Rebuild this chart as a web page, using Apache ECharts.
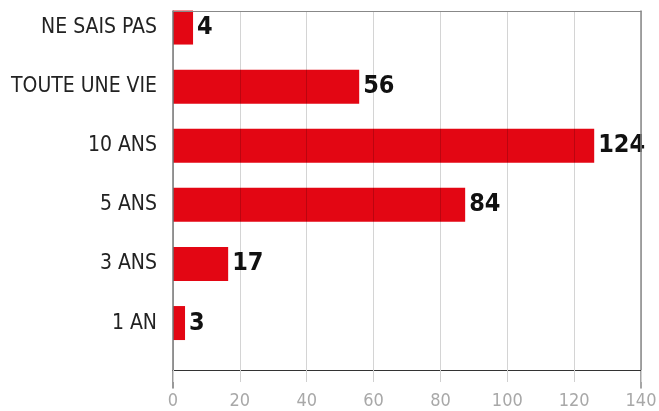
<!DOCTYPE html>
<html>
<head>
<meta charset="utf-8">
<script src="https://cdn.jsdelivr.net/npm/echarts@6/dist/echarts.min.js"></script>
<style>
  html, body { margin: 0; padding: 0; background: #fff; }
  #chart { width: 659px; height: 411px; }
</style>
</head>
<body>
<div id="chart"></div>
<script>
// Categories, bottom to top
const categories = ['1 AN', '3 ANS', '5 ANS', '10 ANS', 'TOUTE UNE VIE', 'NE SAIS PAS'];
// Bar lengths as drawn in the reference (read against the axis)
const barValues = [3.6, 16.5, 87.4, 126, 55.7, 6];
// Numbers printed next to the bars
const printedLabels = ['3', '17', '84', '124', '56', '4'];
// Value axis ticks
const axisMin = 0;
const axisMax = 140;
const axisStep = 20;

const chart = echarts.init(document.getElementById('chart'), null, { renderer: 'canvas' });

const narrow = '"Liberation Sans Narrow", "DejaVu Sans Condensed", sans-serif';

const option = {
  animation: false,
  backgroundColor: '#ffffff',
  grid: [
    { left: 173, right: 18, top: -2, bottom: 58.4, containLabel: false, outerBoundsMode: 'none' },
    { left: 173, right: 18, top: 11, bottom: 41, containLabel: false, outerBoundsMode: 'none' },
    { left: 173, right: 18, top: 11, bottom: 23, containLabel: false, outerBoundsMode: 'none' }
  ],
  xAxis: [
    { gridIndex: 0, type: 'value', min: axisMin, max: axisMax, show: false },
    {
      gridIndex: 1, type: 'value', min: axisMin, max: axisMax, interval: axisStep,
      position: 'bottom', z: 10,
      axisLine: { show: true, lineStyle: { color: '#333', width: 1 } },
      axisTick: { show: true, length: 12, lineStyle: { color: '#d0d0d0' } },
      splitLine: { show: true, lineStyle: { color: 'rgba(0,0,0,0.17)', width: 1 } },
      axisLabel: { color: '#a8a8a8', fontFamily: narrow, fontSize: 18, margin: 22 }
    },
    {
      gridIndex: 1, type: 'value', min: axisMin, max: axisMax, position: 'top', z: 10,
      axisLine: { show: true, lineStyle: { color: '#888', width: 1 } },
      axisTick: { show: false }, axisLabel: { show: false }, splitLine: { show: false }
    },
    { gridIndex: 2, type: 'value', min: axisMin, max: axisMax, show: false }
  ],
  yAxis: [
    {
      gridIndex: 0, type: 'category', data: categories,
      axisLine: { show: false }, axisTick: { show: false }, splitLine: { show: false },
      axisLabel: { color: '#222', fontFamily: narrow, fontSize: 21, margin: 16 }
    },
    { gridIndex: 1, type: 'value', show: false },
    {
      gridIndex: 2, type: 'value', position: 'left', z: 10,
      axisLine: { show: true, lineStyle: { color: '#777', width: 1.5 } },
      axisTick: { show: false }, axisLabel: { show: false }, splitLine: { show: false }
    },
    {
      gridIndex: 2, type: 'value', position: 'right', z: 10,
      axisLine: { show: true, lineStyle: { color: '#888', width: 1.5 } },
      axisTick: { show: false }, axisLabel: { show: false }, splitLine: { show: false }
    }
  ],
  series: [
    {
      type: 'bar',
      xAxisIndex: 0, yAxisIndex: 0,
      data: barValues,
      barWidth: 34,
      z: 2,
      itemStyle: { color: '#e30613' },
      label: {
        show: true,
        position: 'right',
        distance: 4,
        color: '#111',
        fontFamily: narrow,
        fontWeight: 'bold',
        fontSize: 25,
        formatter: (p) => printedLabels[p.dataIndex]
      }
    }
  ]
};

chart.setOption(option);
</script>
</body>
</html>
